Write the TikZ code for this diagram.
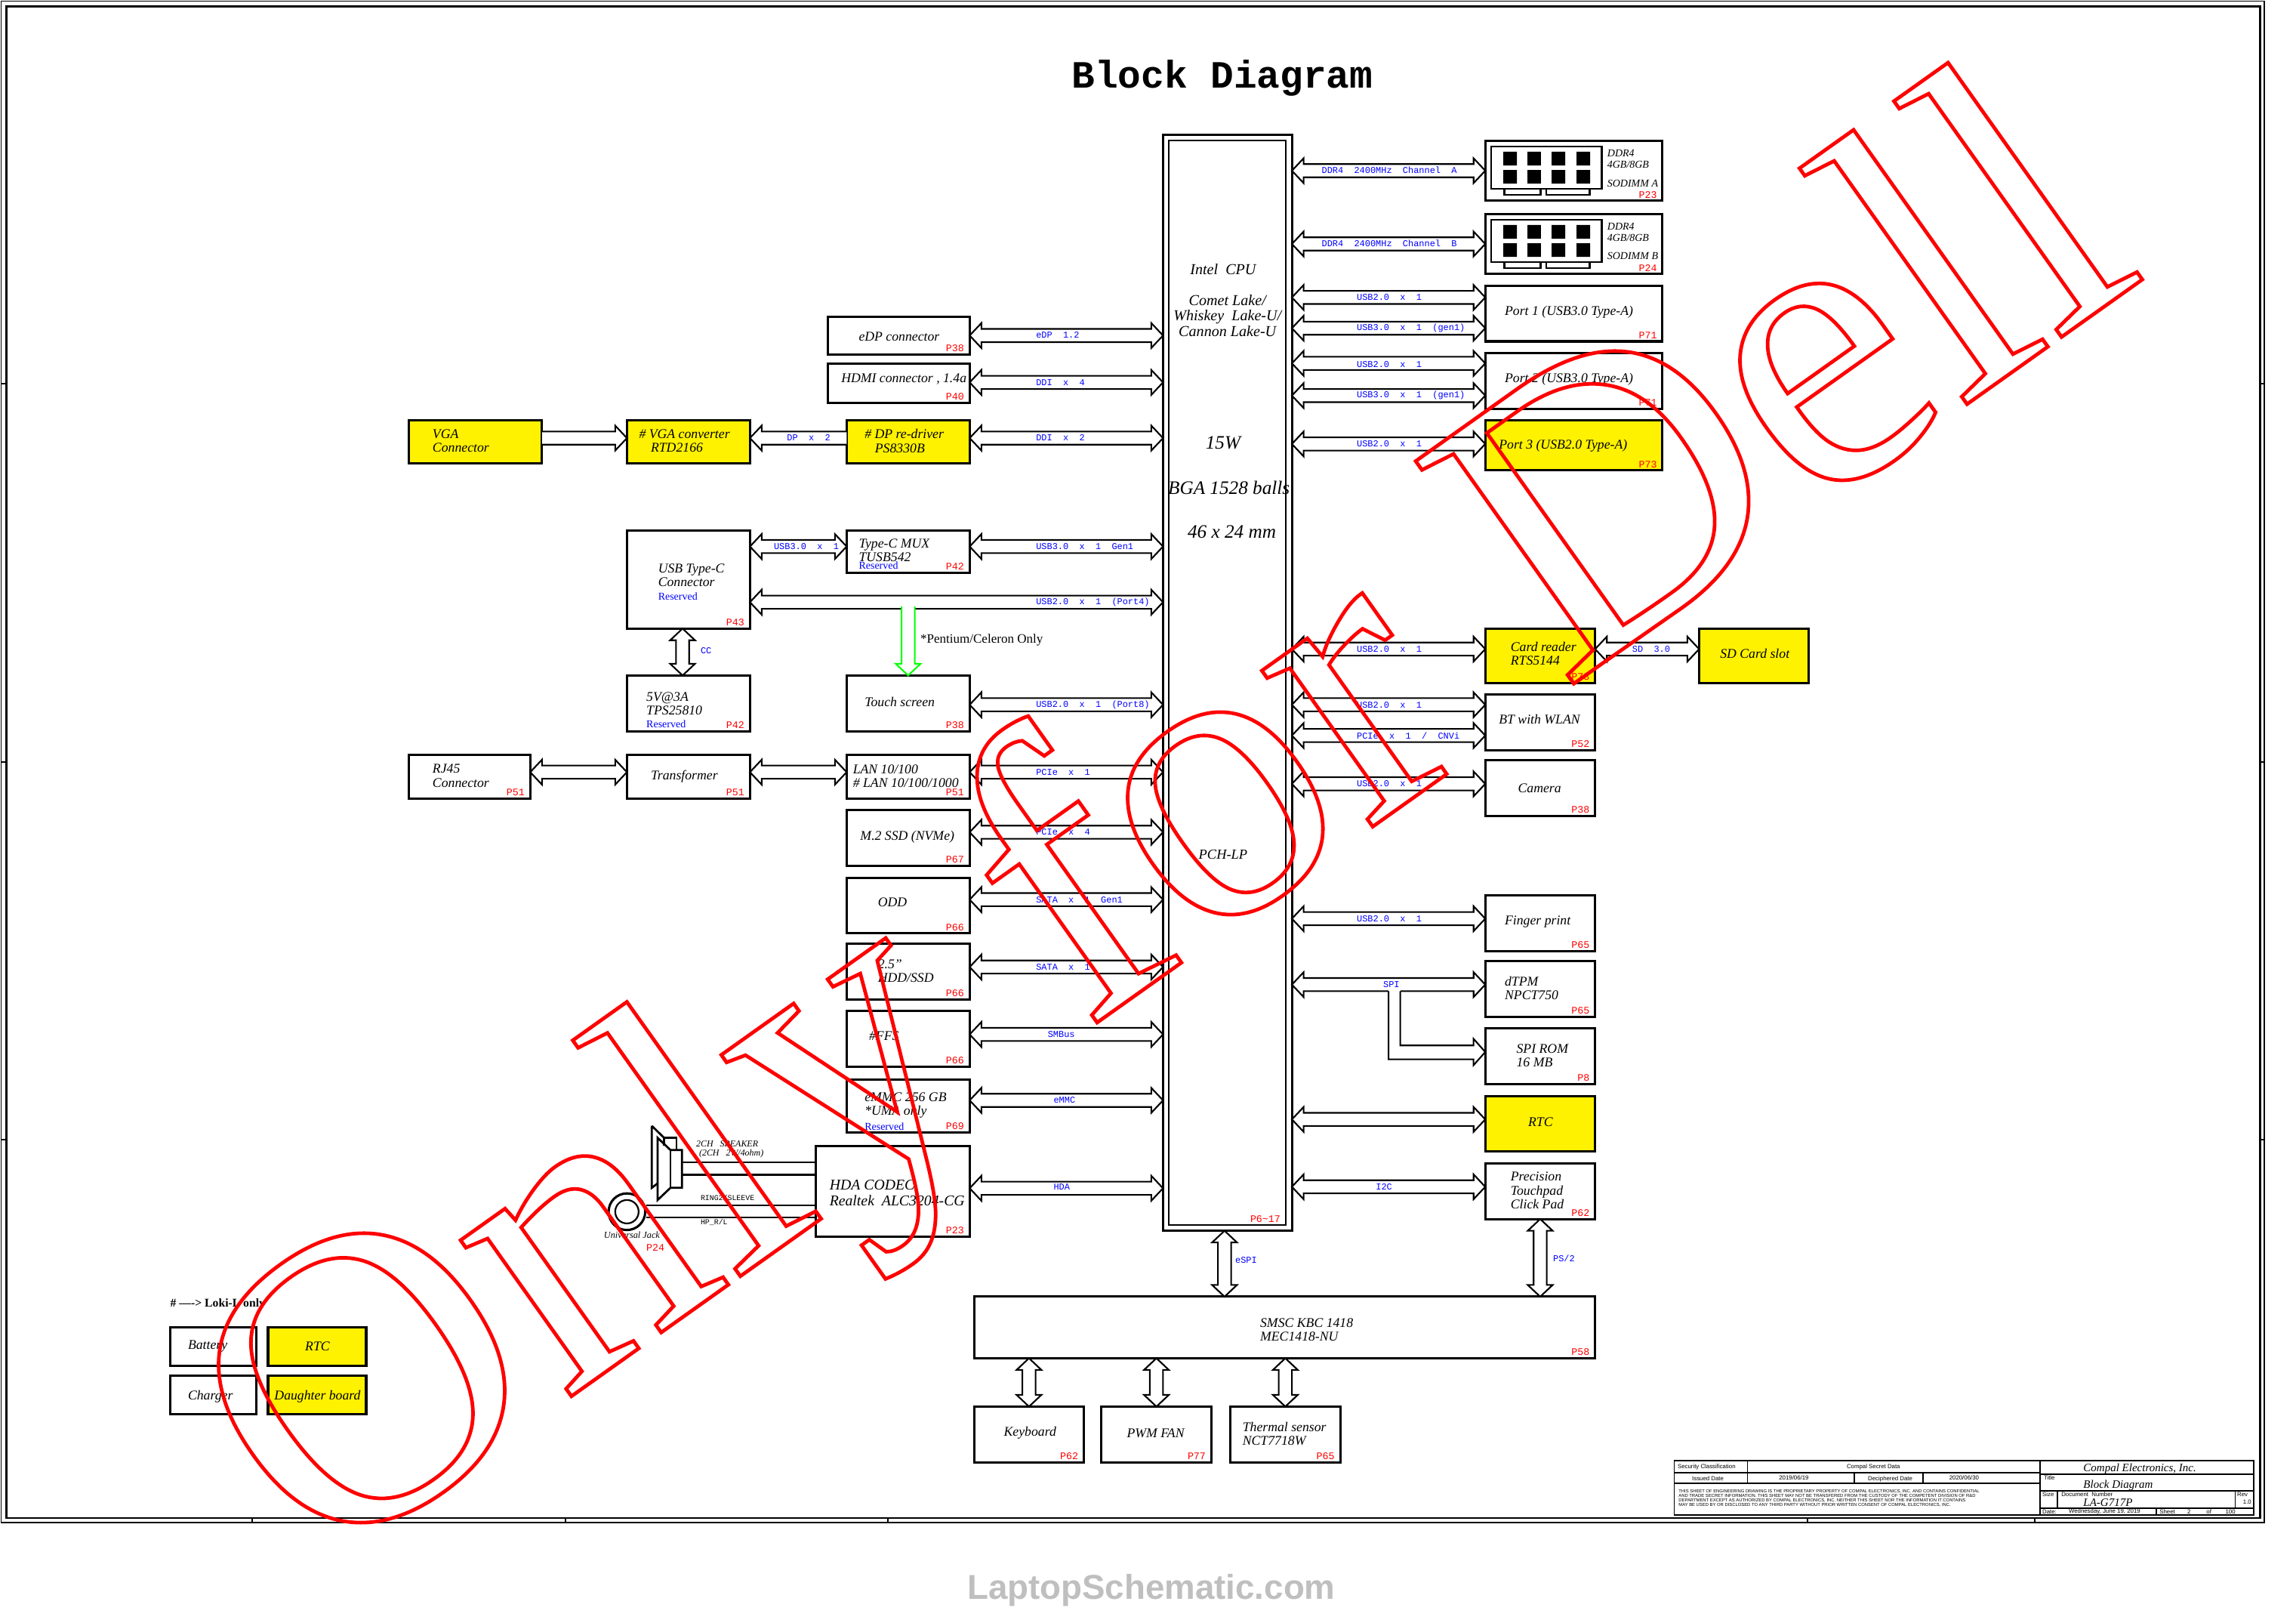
\documentclass[tikz,border=0pt]{standalone}
\usepackage{fontspec}
\setmainfont{Liberation Serif}
\setmonofont{Liberation Mono}
\setsansfont{Liberation Sans}
\usetikzlibrary{calc,fit}
\def\headL{0.16cm}
\def\headW{0.17cm}
\def\shaftW{0.09cm}
\tikzstyle{blk}=[draw,line width=0.9pt,inner sep=0pt,outer sep=0pt]
\tikzstyle{blky}=[blk,fill=yellow]
\tikzstyle{txt}=[inner sep=0pt,anchor=west,align=left,font=\fontsize{5.2}{5.3}\selectfont\itshape]
\tikzstyle{big}=[inner sep=0pt,align=center,font=\fontsize{5.9}{6.1}\selectfont\itshape]
\tikzstyle{huge}=[inner sep=0pt,font=\fontsize{7.4}{8}\selectfont\itshape]
\tikzstyle{small}=[txt,font=\fontsize{4.1}{4.2}\selectfont\itshape]
\tikzstyle{res}=[inner sep=0pt,anchor=west,text=blue,font=\fontsize{4.1}{4.2}\selectfont]
\tikzstyle{sig}=[inner sep=0pt,anchor=west,text=blue,font=\fontsize{3.5}{3.6}\selectfont\ttfamily]
\tikzstyle{pg}=[inner sep=0pt,anchor=south east,xshift=-0.07cm,yshift=0.03cm,text=red,font=\fontsize{3.9}{4}\selectfont\ttfamily]
\tikzstyle{tb}=[inner sep=0pt,anchor=west,font=\fontsize{2.3}{2.4}\selectfont\sffamily]
\tikzstyle{tbi}=[inner sep=0pt,anchor=west,font=\fontsize{4.4}{4.5}\selectfont\itshape]
\tikzstyle{fine}=[inner sep=0pt,anchor=west,font=\fontsize{1.72}{1.8}\selectfont\sffamily]
\tikzstyle{rule}=[line width=0.55pt]
\tikzstyle{bus}=[draw,line width=0.62pt,fill=white,to path={(\tikztostart)
  -- ($(\tikztostart)!\headL!(\tikztotarget)!\headW!90:(\tikztotarget)$)
  -- ($(\tikztostart)!\headL!(\tikztotarget)!\shaftW!90:(\tikztotarget)$)
  -- ($(\tikztotarget)!\headL!(\tikztostart)!\shaftW!-90:(\tikztostart)$)
  -- ($(\tikztotarget)!\headL!(\tikztostart)!\headW!-90:(\tikztostart)$)
  -- (\tikztotarget)
  -- ($(\tikztotarget)!\headL!(\tikztostart)!\headW!90:(\tikztostart)$)
  -- ($(\tikztotarget)!\headL!(\tikztostart)!\shaftW!90:(\tikztostart)$)
  -- ($(\tikztostart)!\headL!(\tikztotarget)!\shaftW!-90:(\tikztotarget)$)
  -- ($(\tikztostart)!\headL!(\tikztotarget)!\headW!-90:(\tikztotarget)$)
  -- cycle}]
\tikzstyle{feed}=[draw,line width=0.62pt,fill=white,to path={($(\tikztostart)!\shaftW!90:(\tikztotarget)$)
  -- ($(\tikztotarget)!\headL!(\tikztostart)!\shaftW!-90:(\tikztostart)$)
  -- ($(\tikztotarget)!\headL!(\tikztostart)!\headW!-90:(\tikztostart)$)
  -- (\tikztotarget)
  -- ($(\tikztotarget)!\headL!(\tikztostart)!\headW!90:(\tikztostart)$)
  -- ($(\tikztotarget)!\headL!(\tikztostart)!\shaftW!90:(\tikztostart)$)
  -- ($(\tikztostart)!\shaftW!-90:(\tikztotarget)$)}]
\begin{document}
\begin{tikzpicture}[x=0.02cm,y=-0.02cm]
\useasboundingbox (0,0) rectangle (1567.5,1107.7);
% sheet frame
\draw[line width=0.5pt] (0.8,0.8) rectangle (1546,1039);
\draw[rule,line width=0.8pt] (4.3,4.3) rectangle (1543,1036);
\draw[rule] (1,262) -- (4,262) (1,520) -- (4,520) (1,778) -- (4,778);
\draw[rule] (1543,262) -- (1546,262) (1543,520) -- (1546,520) (1543,778) -- (1546,778);
\draw[rule] (1234,1036) -- (1234,1039) (1389,1036) -- (1389,1039);
\draw[rule] (172,1036) -- (172,1039) (386,1036) -- (386,1039) (606,1036) -- (606,1039);
\node[inner sep=0pt,font=\fontsize{15}{15}\selectfont\ttfamily\bfseries] at (834.5,53.5) (title) {Block Diagram};

% cpu
\node[blk,fit={(794,92) (882,840)}] (cpu) {};
\node[blk,line width=0.65pt,fit={(798,96) (878,836)}] (cpuin) {};
\node[big] at (835,184) (cpua) {Intel~~CPU};
\node[big] at (838,215.5) (cpub) {Comet Lake/\\Whiskey~~Lake-U/\\Cannon Lake-U};
\node[huge] at (835,302) (cpuc) {15W};
\node[huge] at (839,333) (cpud) {BGA 1528 balls};
\node[huge] at (841,363) (cpue) {46 x 24 mm};
\node[big,font=\fontsize{5.4}{5.5}\selectfont\itshape] at (835,583) (pch) {PCH-LP};
\node[pg] at (cpuin.south east) (cpuP) {P6\textasciitilde17};

% memory
\node[blk,fit={(1014,96) (1135,137)}] (ddra) {};
\node[blk,fit={(1014,146) (1135,187)}] (ddrb) {};
\draw[rule,line width=0.7pt] (1018,100) rectangle (1093.5,129) (1027,129) rectangle (1051.7,133) (1055.5,129) rectangle (1085.2,133);
\draw[rule,line width=0.7pt] (1018,150) rectangle (1093.5,179) (1027,179) rectangle (1051.7,183) (1055.5,179) rectangle (1085.2,183);
\fill (1026.3,103.6) rectangle (1035.6,112.9) (1042.8,103.6) rectangle (1052,112.9) (1059.3,103.6) rectangle (1068.6,112.9) (1076.3,103.6) rectangle (1085.6,112.9);
\fill (1026.3,116) rectangle (1035.6,125.3) (1042.8,116) rectangle (1052,125.3) (1059.3,116) rectangle (1068.6,125.3) (1076.3,116) rectangle (1085.6,125.3);
\fill (1026.3,153.6) rectangle (1035.6,162.9) (1042.8,153.6) rectangle (1052,162.9) (1059.3,153.6) rectangle (1068.6,162.9) (1076.3,153.6) rectangle (1085.6,162.9);
\fill (1026.3,166) rectangle (1035.6,175.3) (1042.8,166) rectangle (1052,175.3) (1059.3,166) rectangle (1068.6,175.3) (1076.3,166) rectangle (1085.6,175.3);
\node[small] at (1097,108.5) (ddratxt) {DDR4\\[0.3pt]4GB/8GB};
\node[small] at (1097,125) (ddrasub) {SODIMM A};
\node[small] at (1097,158.5) (ddrbtxt) {DDR4\\[0.3pt]4GB/8GB};
\node[small] at (1097,174.5) (ddrbsub) {SODIMM B};
\node[pg] at (ddra.south east) (ddraP) {P23};
\node[pg] at (ddrb.south east) (ddrbP) {P24};
\draw[bus] (cpu.east |- ddra.west) to (ddra.west);
\draw[bus] (cpu.east |- ddrb.west) to (ddrb.west);
\node[sig] at (902,116) (ddralab) {DDR4~~2400MHz~~Channel~~A};
\node[sig] at (902,166) (ddrblab) {DDR4~~2400MHz~~Channel~~B};

% right side ports
\node[blk,fit={(1014,195) (1135,233)}] (porta) {};
\node[blk,fit={(1014,241) (1135,279)}] (portb) {};
\node[blky,fit={(1014,287) (1135,321)}] (portc) {};
\node[txt] at (1027,213) (portatxt) {Port 1 (USB3.0 Type-A)};
\node[txt] at (1027,259) (portbtxt) {Port 2 (USB3.0 Type-A)};
\node[txt] at (1023,304) (portctxt) {Port 3 (USB2.0 Type-A)};
\node[pg] at (porta.south east) (portaP) {P71};
\node[pg] at (portb.south east) (portbP) {P71};
\node[pg] at (portc.south east) (portcP) {P73};
\draw[bus] (cpu.east |- 0,203) to (porta.west |- 0,203);
\draw[bus] (cpu.east |- 0,224) to (porta.west |- 0,224);
\draw[bus] (cpu.east |- 0,248) to (portb.west |- 0,248);
\draw[bus] (cpu.east |- 0,270) to (portb.west |- 0,270);
\draw[bus] (cpu.east |- 0,303) to (portc.west |- 0,303);
\node[sig] at (926,203) (portalab) {USB2.0~~x~~1};
\node[sig] at (926,224) (portalabb) {USB3.0~~x~~1~~(gen1)};
\node[sig] at (926,248.5) (portblab) {USB2.0~~x~~1};
\node[sig] at (926,270) (portblabb) {USB3.0~~x~~1~~(gen1)};
\node[sig] at (926,303) (portclab) {USB2.0~~x~~1};

\node[blky,fit={(1014,429) (1089,466)}] (card) {};
\node[blky,fit={(1160,429) (1235,466)}] (sdslot) {};
\node[blk,fit={(1014,474) (1089,512)}] (bt) {};
\node[blk,fit={(1014,519) (1089,557)}] (cam) {};
\node[blk,fit={(1014,611) (1089,649)}] (finger) {};
\node[blk,fit={(1014,656) (1089,694)}] (dtpm) {};
\node[blk,fit={(1014,702) (1089,740)}] (rom) {};
\node[blky,fit={(1014,748) (1089,786)}] (rtc) {};
\node[blk,fit={(1014,794) (1089,832)}] (pad) {};
\node[txt] at (1031,446) (cardtxt) {Card reader\\RTS5144};
\node[txt] at (1174,446) (sdtxt) {SD Card slot};
\node[txt] at (1023,491) (bttxt) {BT with WLAN};
\node[txt] at (1036,538) (camtxt) {Camera};
\node[txt] at (1027,629) (fingertxt) {Finger print};
\node[txt] at (1027,674.5) (dtpmtxt) {dTPM\\NPCT750};
\node[txt] at (1035,720.5) (romtxt) {SPI ROM\\16 MB};
\node[txt] at (1043,766) (rtctxt) {RTC};
\node[txt] at (1031,812.5) (padtxt) {Precision\\Touchpad\\Click Pad};
\node[pg] at (card.south east) (cardP) {P73};
\node[pg] at (bt.south east) (btP) {P52};
\node[pg] at (cam.south east) (camP) {P38};
\node[pg] at (finger.south east) (fingerP) {P65};
\node[pg] at (dtpm.south east) (dtpmP) {P65};
\node[pg] at (rom.south east) (romP) {P8};
\node[pg] at (pad.south east) (padP) {P62};
\draw[bus] (cpu.east |- 0,443) to (card.west |- 0,443);
\draw[bus] (card.east |- 0,443) to (sdslot.west |- 0,443);
\draw[bus] (cpu.east |- 0,481) to (bt.west |- 0,481);
\draw[bus] (cpu.east |- 0,502) to (bt.west |- 0,502);
\draw[bus] (cpu.east |- 0,535) to (cam.west |- 0,535);
\draw[bus] (cpu.east |- 0,627) to (finger.west |- 0,627);
\draw[bus] (cpu.east |- 0,672) to (dtpm.west |- 0,672);
\draw[bus] (cpu.east |- 0,764) to (rtc.west |- 0,764);
\draw[bus] (cpu.east |- 0,810) to (pad.west |- 0,810);
% spi branch down to the rom
\coordinate (romtip) at (rom.west |- 0,718);
\fill[white] (948,674) rectangle (956,680);
\draw[rule,line width=0.62pt] (948,676.5) -- (948,723) -- (1006,723) -- (1006,727) -- (romtip) -- (1006,709) -- (1006,713.5) -- (956,713.5) -- (956,676.5);
\node[sig] at (926,443) (cardlab) {USB2.0~~x~~1};
\node[sig] at (1114,443) (sdlab) {SD~~3.0};
\node[sig] at (926,481) (btlab) {USB2.0~~x~~1};
\node[sig] at (926,502) (btlabb) {PCIe~~x~~1~~/~~CNVi};
\node[sig] at (926,535) (camlab) {USB2.0~~x~~1};
\node[sig] at (926,627) (fingerlab) {USB2.0~~x~~1};
\node[sig] at (944,672) (spilab) {SPI};
\node[sig] at (939,810) (i2clab) {I2C};

% kbc row
\node[blk,fit={(665,885) (1089,927)}] (kbc) {};
\node[blk,fit={(665,960) (740,998)}] (kbd) {};
\node[blk,fit={(752,960) (827,998)}] (fan) {};
\node[blk,fit={(840,960) (915,998)}] (therm) {};
\node[txt] at (860,907.5) (kbctxt) {SMSC KBC 1418\\MEC1418-NU};
\node[txt] at (685,978) (kbdtxt) {Keyboard};
\node[txt] at (769,978) (fantxt) {PWM FAN};
\node[txt] at (848,978.5) (thermtxt) {Thermal sensor\\NCT7718W};
\node[pg] at (kbc.south east) (kbcP) {P58};
\node[pg] at (kbd.south east) (kbdP) {P62};
\node[pg] at (fan.south east) (fanP) {P77};
\node[pg] at (therm.south east) (thermP) {P65};
\coordinate (espi) at (836,840);
\draw[bus] (espi) to (espi |- kbc.north);
\draw[bus] (pad.south) to (pad.south |- kbc.north);
\draw[bus] (kbd.north) to (kbd.north |- kbc.south);
\draw[bus] (fan.north) to (fan.north |- kbc.south);
\draw[bus] (therm.north) to (therm.north |- kbc.south);
\node[sig] at (843,860) (espilab) {eSPI};
\node[sig] at (1060,859) (ps2lab) {PS/2};

% left side
\node[blk,fit={(565,216) (662,242)}] (edp) {};
\node[blk,fit={(565,248) (662,275)}] (hdmi) {};
\node[blky,fit={(578,287) (662,316)}] (dpdrv) {};
\node[blky,fit={(428,287) (512,316)}] (vgaconv) {};
\node[blky,fit={(279,287) (370,316)}] (vgacon) {};
\node[blk,fit={(578,362) (662,391)}] (mux) {};
\node[blk,fit={(428,362) (512,429)}] (typec) {};
\node[blk,fit={(428,461) (512,499)}] (pwr) {};
\node[blk,fit={(578,461) (662,499)}] (touch) {};
\node[blk,fit={(279,515) (362,545)}] (rj) {};
\node[blk,fit={(428,515) (512,545)}] (xfmr) {};
\node[blk,fit={(578,515) (662,545)}] (lan) {};
\node[blk,fit={(578,553) (662,591)}] (ssd) {};
\node[blk,fit={(578,599) (662,637)}] (odd) {};
\node[blk,fit={(578,644) (662,682)}] (hdd) {};
\node[blk,fit={(578,690) (662,728)}] (ffs) {};
\node[blk,fit={(578,737) (662,773)}] (emmc) {};
\node[blk,fit={(557,782) (662,844)}] (hda) {};
\node[txt] at (586,230) (edptxt) {eDP connector};
\node[txt] at (574,259) (hdmitxt) {HDMI connector , 1.4a};
\node[txt] at (590,301) (dpdrvtxt) {\# DP re-driver\\\hspace*{0.14cm}PS8330B};
\node[txt] at (436,301) (vgaconvtxt) {\# VGA converter\\\hspace*{0.16cm}RTD2166};
\node[txt] at (295,301) (vgacontxt) {VGA\\Connector};
\node[txt] at (586,375.5) (muxtxt) {Type-C MUX\\TUSB542};
\node[res] at (586,386) (muxres) {Reserved};
\node[txt] at (449,392.5) (typectxt) {USB Type-C\\Connector};
\node[res] at (449,407) (typecres) {Reserved};
\node[txt] at (441,480) (pwrtxt) {5V@3A\\TPS25810};
\node[res] at (441,494) (pwrres) {Reserved};
\node[txt] at (590,479) (touchtxt) {Touch screen};
\node[txt] at (295,529.5) (rjtxt) {RJ45\\Connector};
\node[txt] at (444,530) (xfmrtxt) {Transformer};
\node[txt] at (582,529.5) (lantxt) {LAN 10/100\\\# LAN 10/100/1000};
\node[txt] at (587,571) (ssdtxt) {M.2 SSD (NVMe)};
\node[txt] at (599,616) (oddtxt) {ODD};
\node[txt] at (599,662.5) (hddtxt) {2.5"\\HDD/SSD};
\node[txt] at (593,707) (ffstxt) {\#FFS};
\node[txt] at (590,754.5) (emmctxt) {eMMC 256 GB\\*UMA only};
\node[res] at (590,769) (emmcres) {Reserved};
\node[txt,font=\fontsize{5.8}{6.2}\selectfont\itshape] at (566,814) (hdatxt) {HDA CODEC\\Realtek~~ALC3204-CG};
\node[pg] at (edp.south east) (edpP) {P38};
\node[pg] at (hdmi.south east) (hdmiP) {P40};
\node[pg] at (mux.south east) (muxP) {P42};
\node[pg] at (typec.south east) (typecP) {P43};
\node[pg] at (pwr.south east) (pwrP) {P42};
\node[pg] at (touch.south east) (touchP) {P38};
\node[pg] at (rj.south east) (rjP) {P51};
\node[pg] at (xfmr.south east) (xfmrP) {P51};
\node[pg] at (lan.south east) (lanP) {P51};
\node[pg] at (ssd.south east) (ssdP) {P67};
\node[pg] at (odd.south east) (oddP) {P66};
\node[pg] at (hdd.south east) (hddP) {P66};
\node[pg] at (ffs.south east) (ffsP) {P66};
\node[pg] at (emmc.south east) (emmcP) {P69};
\node[pg] at (hda.south east) (hdaP) {P23};
\draw[bus] (edp.east |- 0,229) to (cpu.west |- 0,229);
\draw[bus] (hdmi.east |- 0,261) to (cpu.west |- 0,261);
\draw[bus] (dpdrv.east |- 0,299) to (cpu.west |- 0,299);
\draw[feed] (vgacon.east |- 0,299) to (vgaconv.west |- 0,299);
\draw[feed] (dpdrv.west |- 0,299) to (vgaconv.east |- 0,299);
\draw[bus] (mux.east |- 0,373) to (cpu.west |- 0,373);
\draw[bus] (typec.east |- 0,373) to (mux.west |- 0,373);
\draw[bus] (typec.east |- 0,411) to (cpu.west |- 0,411);
\draw[bus] (466,429) to (466,461);
\draw[bus] (touch.east |- 0,481) to (cpu.west |- 0,481);
\draw[bus] (rj.east |- 0,527) to (xfmr.west |- 0,527);
\draw[bus] (xfmr.east |- 0,527) to (lan.west |- 0,527);
\draw[bus] (lan.east |- 0,527) to (cpu.west |- 0,527);
\draw[bus] (ssd.east |- 0,568) to (cpu.west |- 0,568);
\draw[bus] (odd.east |- 0,614) to (cpu.west |- 0,614);
\draw[bus] (hdd.east |- 0,660) to (cpu.west |- 0,660);
\draw[bus] (ffs.east |- 0,706) to (cpu.west |- 0,706);
\draw[bus] (emmc.east |- 0,751) to (cpu.west |- 0,751);
\draw[bus] (hda.east |- 0,811) to (cpu.west |- 0,811);
\coordinate (tap) at (620,414);
\draw[feed,draw=green] (tap) to (tap |- touch.north);
\node[sig] at (537,298.5) (dplab) {DP~~x~~2};
\node[sig] at (707,228.5) (edplab) {eDP~~1.2};
\node[sig] at (707,261) (hdmilab) {DDI~~x~~4};
\node[sig] at (707,298.5) (dpdrvlab) {DDI~~x~~2};
\node[sig] at (528,373) (typeclab) {USB3.0~~x~~1};
\node[sig] at (707,373) (muxlab) {USB3.0~~x~~1~~Gen1};
\node[sig] at (707,411) (portfour) {USB2.0~~x~~1~~(Port4)};
\node[sig] at (478,444) (cclab) {CC};
\node[inner sep=0pt,anchor=west,font=\fontsize{5}{5}\selectfont] at (628,437) (pentium) {*Pentium/Celeron Only};
\node[sig] at (707,481) (touchlab) {USB2.0~~x~~1~~(Port8)};
\node[sig] at (707,527) (lanlab) {PCIe~~x~~1};
\node[sig] at (707,568) (ssdlab) {PCIe~~x~~4};
\node[sig] at (707,614) (oddlab) {SATA~~x~~1~~Gen1};
\node[sig] at (707,660) (hddlab) {SATA~~x~~1};
\node[sig] at (715,706) (ffslab) {SMBus};
\node[sig] at (719,751) (emmclab) {eMMC};
\node[sig] at (719,810) (hdalab) {HDA};

% audio
\node[draw,circle,line width=0.9pt,minimum size=0.5cm,inner sep=0pt] at (428,827) (jack) {};
\node[draw,circle,line width=0.65pt,minimum size=0.32cm,inner sep=0pt] at (428,827) (jackin) {};
\draw[rule,line width=0.8pt] (445,768.4) -- (445,810.7) -- (449,807.6) (445,768.4) -- (453.4,776.6);
\draw[rule,line width=0.8pt] (449,776.6) -- (449,819) -- (457.7,810.7) -- (465.6,810.7) -- (465.6,784.9) -- (457.7,784.9) -- cycle;
\draw[rule,line width=0.8pt] (457.7,784.9) -- (457.7,810.7) (453.4,782) -- (453.4,776.6) -- (461.9,776.6) -- (461.9,784.9);
\draw[line width=0.7pt] (465.6,793.4) -- (hda.west |- 0,793.4);
\draw[line width=1pt] (465.6,801.9) -- (hda.west |- 0,801.9);
\draw[line width=0.7pt] (jack.east |- 0,822.7) -- (hda.west |- 0,822.7);
\draw[line width=0.7pt] (jack.east |- 0,831) -- (hda.west |- 0,831);
\node[inner sep=0pt,anchor=west,font=\fontsize{3.5}{3.6}\selectfont\itshape] at (475,780.6) (spka) {2CH~~~SPEAKER};
\node[inner sep=0pt,anchor=west,font=\fontsize{3.5}{3.6}\selectfont\itshape] at (477,787.5) (spkb) {(2CH~~~2W/4ohm)};
\node[inner sep=0pt,anchor=west,font=\fontsize{2.9}{3}\selectfont\ttfamily] at (478,817.5) (ringlab) {RING2/SLEEVE};
\node[inner sep=0pt,anchor=west,font=\fontsize{2.9}{3}\selectfont\ttfamily] at (478,834) (hplab) {HP\_R/L};
\node[inner sep=0pt,anchor=west,font=\fontsize{3.6}{3.7}\selectfont\itshape] at (412,843) (jacktxt) {Universal Jack};
\node[inner sep=0pt,anchor=west,text=red,font=\fontsize{3.9}{4}\selectfont\ttfamily] at (441,851.5) (jackP) {P24};

% legend
\node[inner sep=0pt,anchor=west,font=\fontsize{4.6}{4.6}\selectfont\bfseries] at (116,890) (legend) {\# ----> Loki-L only};
\node[blk,fit={(116,906) (175,932)}] (batt) {};
\node[blky,fit={(183,906) (250,932)}] (rtcb) {};
\node[blk,fit={(116,939) (175,965)}] (chg) {};
\node[blky,fit={(183,939) (250,965)}] (dboard) {};
\node[txt] at (128,919) (batttxt) {Battery};
\node[txt] at (208,919) (rtcbtxt) {RTC};
\node[txt] at (128,953) (chgtxt) {Charger};
\node[txt] at (187,953) (dboardtxt) {Daughter board};

% title block
\draw[rule] (1143,997) rectangle (1538.5,1034);
\draw[rule] (1143,1005) -- (1392.6,1005) (1143,1012.5) -- (1392.6,1012.5);
\draw[rule] (1193,997) -- (1193,1012.5) (1265.8,1005) -- (1265.8,1012.5) (1313,1005) -- (1313,1012.5);
\draw[rule] (1392.6,997) -- (1392.6,1034) (1392.6,1006) -- (1538.5,1006) (1392.6,1017.5) -- (1538.5,1017.5) (1392.6,1029.5) -- (1538.5,1029.5);
\draw[rule] (1404.8,1017.5) -- (1404.8,1029.5) (1526,1017.5) -- (1526,1029.5) (1472,1029.5) -- (1472,1034);
\node[tb] at (1145,1001) (secur) {Security Classification};
\node[tb,anchor=center] at (1279,1001) (secret) {Compal Secret Data};
\node[tb,anchor=center] at (1166,1009.3) (issued) {Issued Date};
\node[tb,anchor=center] at (1224.7,1008.5) (issuedate) {2019/06/19};
\node[tb,anchor=center] at (1290.5,1009.3) (deciph) {Deciphered Date};
\node[tb,anchor=center] at (1340.9,1008.5) (deciphdate) {2020/06/30};
\node[fine] at (1145.7,1018) (notea) {THIS SHEET OF ENGINEERING DRAWING IS THE PROPRIETARY PROPERTY OF COMPAL ELECTRONICS, INC. AND CONTAINS CONFIDENTIAL};
\node[fine] at (1145.7,1021) (noteb) {AND TRADE SECRET INFORMATION. THIS SHEET MAY NOT BE TRANSFERED FROM THE CUSTODY OF THE COMPETENT DIVISION OF R\&D};
\node[fine] at (1145.7,1024) (notec) {DEPARTMENT EXCEPT AS AUTHORIZED BY COMPAL ELECTRONICS, INC. NEITHER THIS SHEET NOR THE INFORMATION IT CONTAINS};
\node[fine] at (1145.7,1027) (noted) {MAY BE USED BY OR DISCLOSED TO ANY THIRD PARTY WITHOUT PRIOR WRITTEN CONSENT OF COMPAL ELECTRONICS, INC.};
\node[tbi] at (1422,1002.5) (compal) {Compal Electronics, Inc.};
\node[tb] at (1395,1008.5) (ttl) {Title};
\node[tbi] at (1422,1014) (ttlname) {Block Diagram};
\node[tb] at (1394,1020) (sizelab) {Size};
\node[tb] at (1407,1020) (docnum) {Document~~Number};
\node[tbi] at (1422,1025.5) (docname) {LA-G717P};
\node[tb] at (1527,1020) (revlab) {Rev};
\node[tb] at (1531,1025) (revnum) {1.0};
\node[tb] at (1394,1031.7) (datelab) {Date:};
\node[tb] at (1412,1031.7) (dateval) {Wednesday, June 19, 2019};
\node[tb] at (1474,1031.7) (sheetlab) {Sheet};
\node[tb] at (1493,1031.7) (sheetnum) {2};
\node[tb] at (1506,1031.7) (oflab) {of};
\node[tb] at (1519,1031.7) (sheetall) {100};

\node[inner sep=0pt,text=black!25,font=\fontsize{13.4}{14}\selectfont\sffamily\bfseries] at (786,1085.5) (site) {LaptopSchematic.com};

% watermark
\node[inner sep=0pt,rotate=35.4,font=\fontsize{162}{162}\selectfont] at (802,575) (mark) {\special{pdf:code q 1 Tr 1.4 w 1 0 0 RG}Only for Dell\special{pdf:code Q}};
\end{tikzpicture}
\end{document}
